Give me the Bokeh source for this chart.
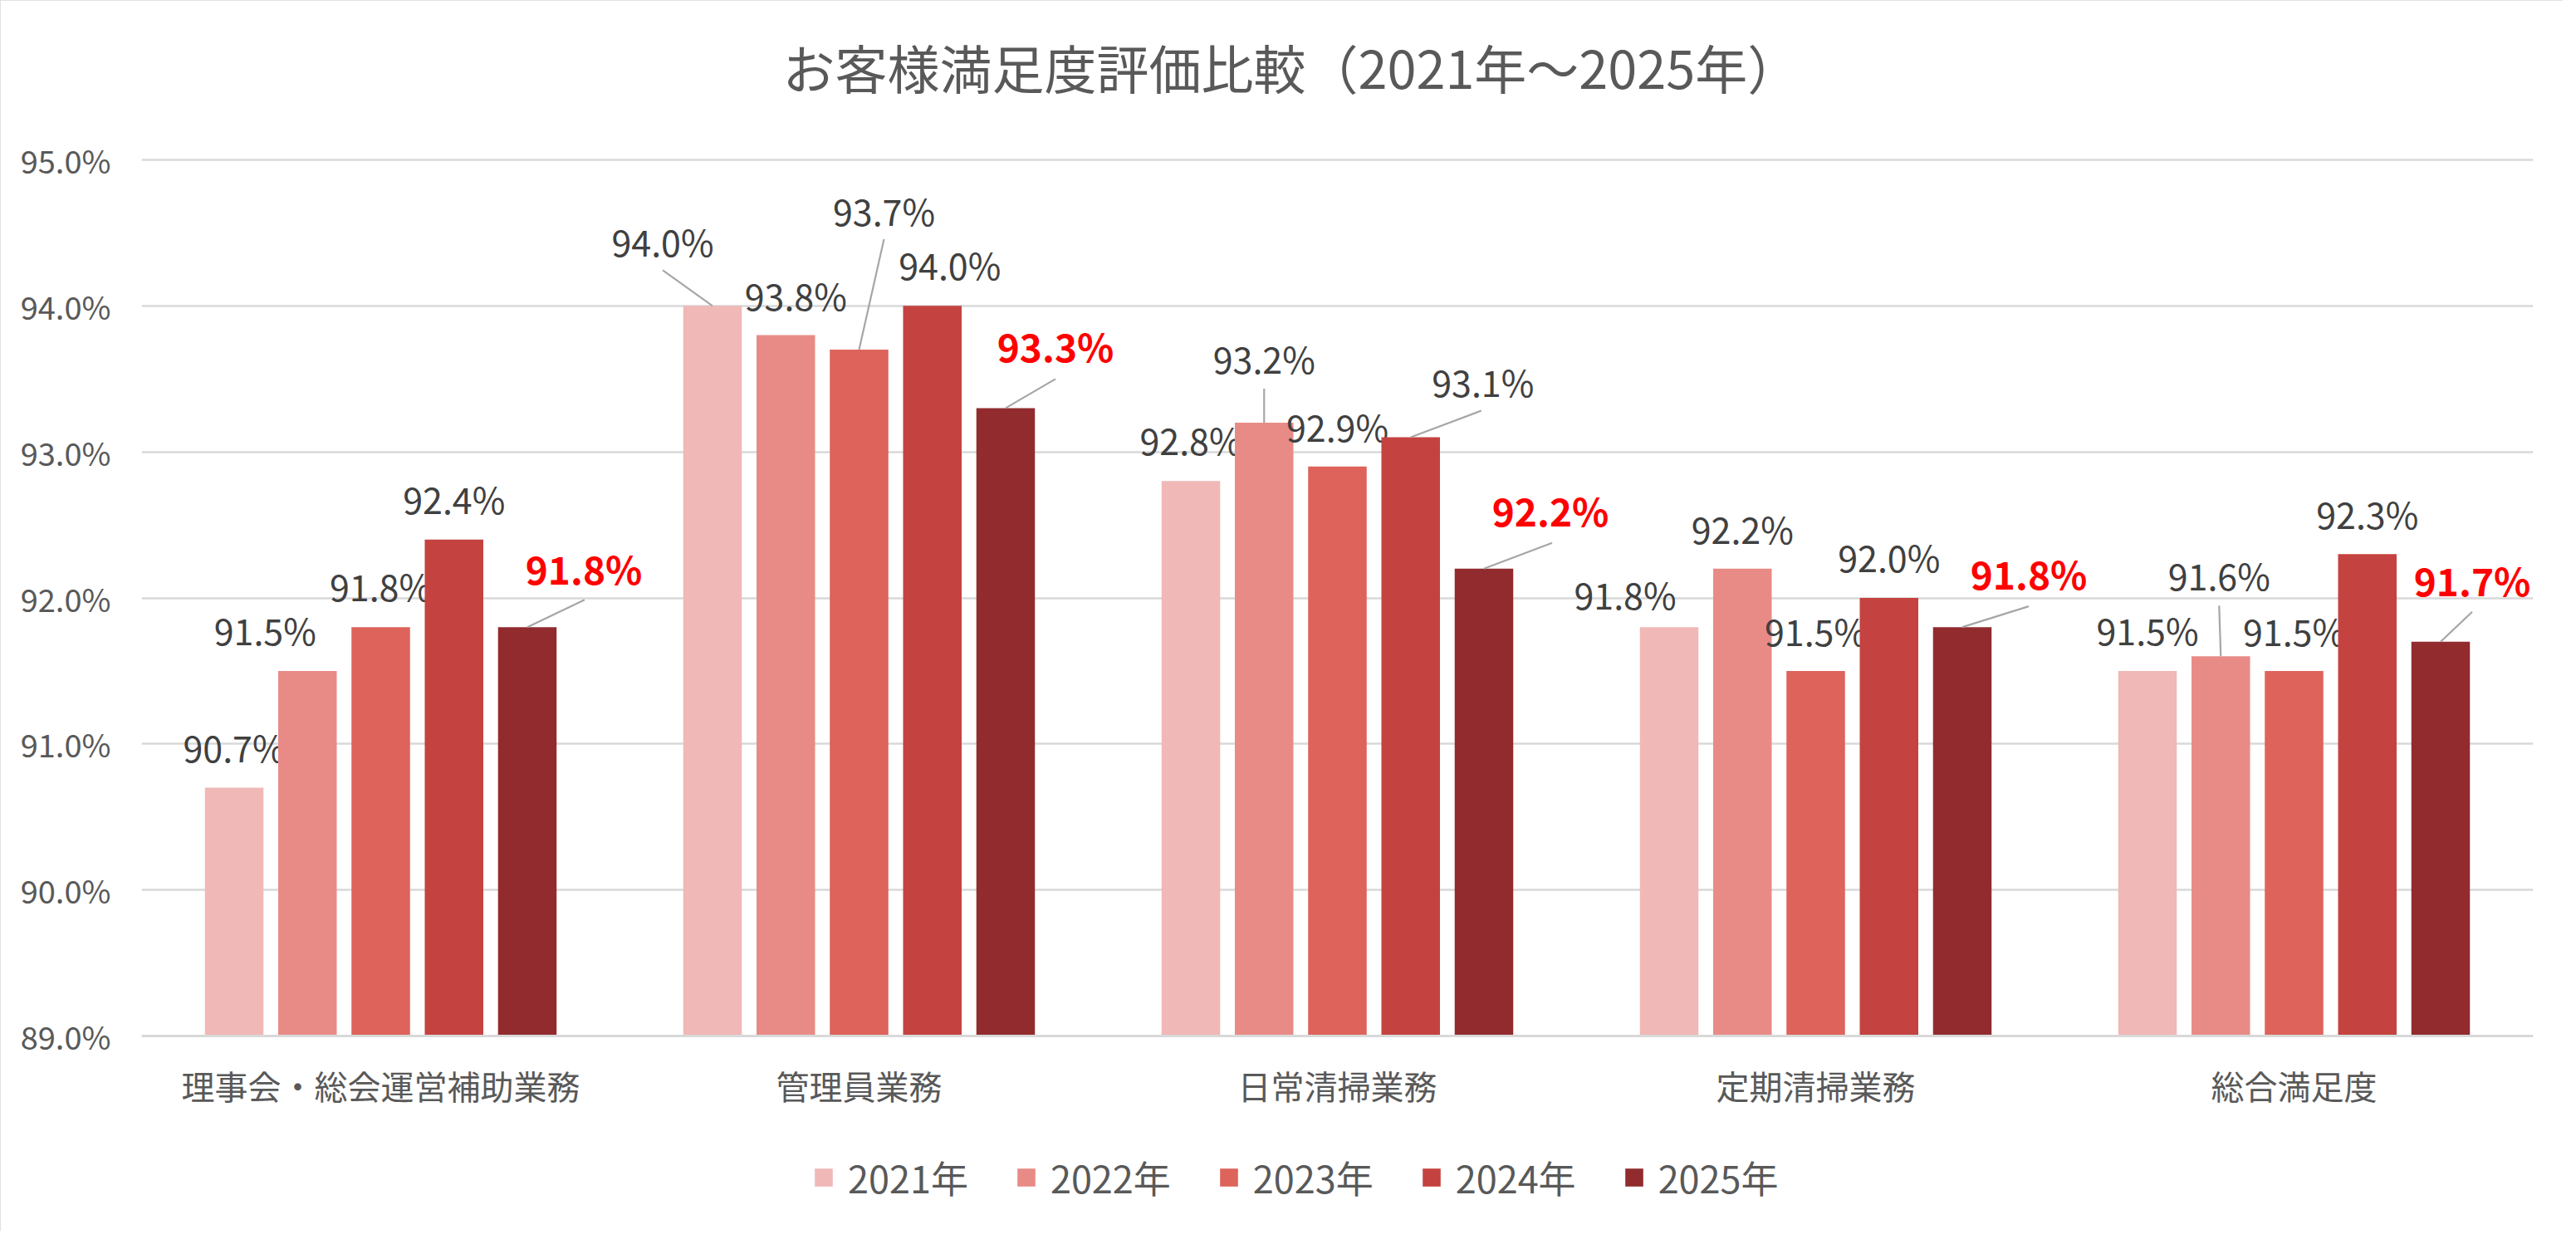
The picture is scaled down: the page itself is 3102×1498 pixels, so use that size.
from bokeh.plotting import figure
from bokeh.models import (Range1d, FixedTicker, PrintfTickFormatter, Legend, LegendItem,
                          ColumnDataSource)
from bokeh.embed import file_html
from bokeh.resources import INLINE
from bokeh.core.properties import value

# ---------------- data ----------------
categories = ["理事会・総会運営補助業務", "管理員業務", "日常清掃業務", "定期清掃業務", "総合満足度"]
years = ["2021年", "2022年", "2023年", "2024年", "2025年"]
v2021 = [90.7, 94.0, 92.8, 91.8, 91.5]
v2022 = [91.5, 93.8, 93.2, 92.2, 91.6]
v2023 = [91.8, 93.7, 92.9, 91.5, 91.5]
v2024 = [92.4, 94.0, 93.1, 92.0, 92.3]
v2025 = [91.8, 93.3, 92.2, 91.8, 91.7]
series = [v2021, v2022, v2023, v2024, v2025]
y_ticks = [89, 90, 91, 92, 93, 94, 95]
title_text = "お客様満足度評価比較（2021年～2025年）"

# ---------------- styles / placement ----------------
colors = ["#F0B8B6", "#E88B86", "#DD635B", "#C4423F", "#912B2E"]
FONT = "Noto Sans CJK JP"
W, H = 3086, 1482
BL, BR, BT, BB = 170, 36, 146, 10
TOP95 = 192              # px from figure top to the 95% line
PLOT_H = 1055            # px height of the 89%..95% value band
Y0, Y1 = y_ticks[0], y_ticks[-1]
FW = W - BL - BR
FH = H - BT - BB
PXX = FW / len(categories)
PXY = PLOT_H / (Y1 - Y0)
Y_HI = Y1 + (TOP95 - BT) / PXY
EXTRA = FH - PLOT_H - (TOP95 - BT)   # room below the value axis for labels and legend
Y_LO = Y0 - EXTRA / PXY
STEP = 0.1532
BAR_W = 0.1224

# label offsets in px (right, up) from each bar's top centre, per [category][series]
lab_off = [
    [(0, 50), (-51, 50), (0, 50), (0, 50), (68, 71)],
    [(-60, 78), (12, 49), (30, 168), (21, 50), (60, 75)],
    [(0, 50), (0, 78), (0, 49), (87, 68), (80, 71)],
    [(-53, 40), (0, 49), (0, 49), (0, 50), (80, 65)],
    [(0, 50), (-2, 98), (0, 49), (0, 49), (38, 75)],
]
# leader line ends in px (right, up) from bar top, None = no leader
lead_off = [
    [None, None, None, None, (69, 33)],
    [(-60, 43), None, (30, 133), None, (60, 35)],
    [None, (0, 41), None, (85, 32), (82, 31)],
    [None, None, None, None, (80, 25)],
    [None, (-2, 61), None, None, (38, 36)],
]

p = figure(width=W, height=H, x_range=Range1d(0, len(categories)), y_range=Range1d(Y_LO, Y_HI),
           output_backend="svg", toolbar_location=None,
           min_border_left=BL, min_border_right=BR, min_border_top=BT, min_border_bottom=BB,
           styles={"outline": "2px solid #D9D9D9", "outline-offset": "-2px"})
p.outline_line_color = None
p.background_fill_color = "white"
p.border_fill_color = "white"

p.title.text = title_text
p.title.align = "left"
p.title.offset = 772
p.title.text_font = FONT
p.title.text_font_size = "63px"
p.title.text_font_style = "normal"
p.title.text_color = "#595959"
p.title.standoff = 44

# axes
p.xaxis.fixed_location = Y0
p.xaxis.ticker = FixedTicker(ticks=[i + 0.5 for i in range(len(categories))])
p.xaxis.major_label_overrides = {i + 0.5: c for i, c in enumerate(categories)}
p.xaxis.major_label_text_font = FONT
p.xaxis.major_label_text_font_size = "40px"
p.xaxis.major_label_text_color = "#595959"
p.xaxis.major_label_standoff = 24
p.xaxis.major_tick_line_color = None
p.xaxis.minor_tick_line_color = None
p.xaxis.axis_line_color = "#D9D9D9"
p.xaxis.axis_line_width = 3

p.yaxis.ticker = FixedTicker(ticks=y_ticks)
p.yaxis.formatter = PrintfTickFormatter(format="%.1f%%")
p.yaxis.major_label_text_font = FONT
p.yaxis.major_label_text_font_size = "38px"
p.yaxis.major_label_text_color = "#595959"
p.yaxis.major_label_standoff = 31
p.yaxis.major_tick_line_color = None
p.yaxis.minor_tick_line_color = None
p.yaxis.axis_line_color = None

p.xgrid.grid_line_color = None
p.ygrid.grid_line_color = "#D9D9D9"
p.ygrid.grid_line_width = 2.5

items = []
n = len(series)
for s, vals in enumerate(series):
    xs = [i + 0.5 + (s - (n - 1) / 2) * STEP for i in range(len(categories))]
    src = ColumnDataSource(dict(x=xs, top=vals))
    r = p.vbar(x="x", top="top", bottom=Y0, width=BAR_W, source=src,
               fill_color=colors[s], line_color=None)
    items.append(LegendItem(label=years[s], renderers=[r]))

    # leader lines
    lx0, ly0, lx1, ly1 = [], [], [], []
    for i, v in enumerate(vals):
        lo = lead_off[i][s]
        if lo is not None:
            lx0.append(xs[i]); ly0.append(v)
            lx1.append(xs[i] + lo[0] / PXX); ly1.append(v + lo[1] / PXY)
    if lx0:
        p.segment(x0=lx0, y0=ly0, x1=lx1, y1=ly1, line_color="#A6A6A6", line_width=2.2)

    # data labels
    tx = [xs[i] + lab_off[i][s][0] / PXX for i in range(len(vals))]
    ty = [vals[i] + lab_off[i][s][1] / PXY for i in range(len(vals))]
    txt = [f"{v:.1f}%" for v in vals]
    last = (s == n - 1)
    p.text(x=tx, y=ty, text=txt, text_align="center", text_baseline="middle",
           text_font=value(FONT),
           text_font_size="46px" if last else "43px",
           text_font_style="bold" if last else "normal",
           text_color="#FF0000" if last else "#404040")

legend = Legend(items=items, orientation="horizontal", location=(808, 22),
                label_text_font=FONT, label_text_font_size="45px", label_text_color="#595959",
                glyph_width=27, glyph_height=27, label_standoff=16, spacing=56,
                padding=0, margin=0, background_fill_alpha=0, border_line_color=None)
p.add_layout(legend, "center")

open("out.html", "w").write(file_html(p, INLINE))
